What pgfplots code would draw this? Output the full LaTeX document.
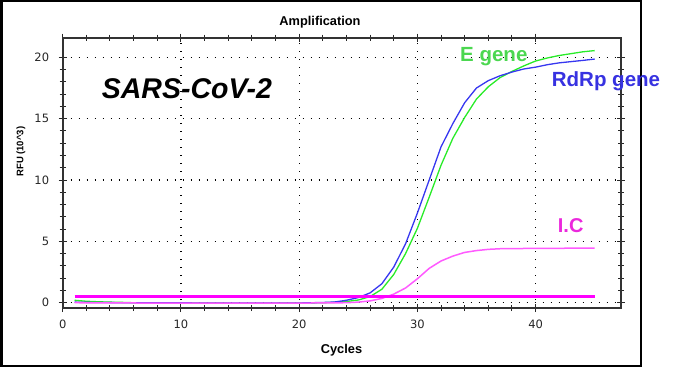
\documentclass[border=0pt]{standalone}
\usepackage{fontspec}
\setmainfont{Liberation Sans}
\newfontfamily\tickfont{DejaVu Sans}
\usepackage{pgfplots}
\pgfplotsset{compat=1.18}
\definecolor{cgreen}{RGB}{40,235,40}
\definecolor{cblue}{RGB}{55,55,240}
\definecolor{cmag}{RGB}{255,0,255}
\definecolor{cic}{RGB}{255,90,255}
\definecolor{lgreen}{RGB}{75,215,80}
\definecolor{lblue}{RGB}{55,50,225}
\definecolor{lmag}{RGB}{235,40,220}

\pgfplotstableread{
x y
1 0.05
2 0.03
3 0.02
4 0.01
5 0.0
8 0.0
12 -0.02
16 -0.03
20 -0.02
21 0.0
22 0.02
23 0.06
24 0.2
25 0.42
26 0.8
27 1.55
28 2.9
29 4.8
30 7.3
31 10.0
32 12.7
33 14.6
34 16.3
35 17.5
36 18.1
37 18.5
38 18.8
39 19.05
40 19.2
41 19.4
42 19.55
43 19.65
44 19.75
45 19.86
}\rdrp

\pgfplotstableread{
x y
1 0.2
2 0.12
3 0.08
4 0.05
5 0.03
6 0.0
12 -0.03
16 -0.04
20 -0.03
22 0.0
23 0.03
24 0.1
25 0.22
26 0.5
27 1.1
28 2.3
29 4.0
30 6.06
31 8.6
32 11.2
33 13.4
34 15.1
35 16.6
36 17.6
37 18.35
38 18.85
39 19.3
40 19.7
41 19.95
42 20.15
43 20.3
44 20.45
45 20.55
}\egene

\pgfplotstableread{
x y
1 0.0
5 -0.02
10 -0.03
15 -0.04
20 -0.03
24 0.0
25 0.05
26 0.15
27 0.35
28 0.7
29 1.2
30 1.95
31 2.8
32 3.4
33 3.8
34 4.1
35 4.25
36 4.35
37 4.4
40 4.43
45 4.45
}\ic

\pgfplotstableread{
x y
1 0.5
45 0.5
}\flat

\begin{document}
\begin{tikzpicture}[x=1pt,y=1pt]
\useasboundingbox (0,0) rectangle (685,367);
\draw[line width=2.5pt] (1.3,0.8) rectangle (641,365.8);
\begin{axis}[
  at={(62.7pt,59pt)}, anchor=south west,
  scale only axis, width=558pt, height=270.3pt,
  xmin=0, xmax=47.2, ymin=-0.43, ymax=21.6,
  xtick={0,10,20,30,40}, ytick={0,5,10,15,20},
  minor x tick num=4, minor y tick num=4,
  grid=major,
  major grid style={black, line width=1.2pt, dash pattern=on 1.2pt off 6.8pt},
  axis line style={black!80, line width=1.8pt},
  tick align=center,
  major tick length=8pt, minor tick length=6pt,
  every tick/.style={black!85, line width=1pt},
  /pgf/number format/assume math mode=true,
  ticklabel style={font=\tickfont\fontsize{11.5}{12}\selectfont, text=black!85},
  yticklabel style={anchor=east, inner sep=0pt, xshift=-9.4pt},
  xticklabel style={anchor=base, inner sep=0pt, yshift=-16.3pt},
]
\addplot[cgreen, line width=1.3pt] table[x=x,y=y] {\egene};
\addplot[cblue, line width=1.3pt] table[x=x,y=y] {\rdrp};
\addplot[cic, line width=1.5pt] table[x=x,y=y] {\ic};
\addplot[cmag, line width=2.8pt] table[x=x,y=y] {\flat};
\end{axis}
\node[anchor=base, inner sep=0pt, font=\fontsize{12.8}{14}\selectfont\bfseries] at (320,341.3) {Amplification};
\node[anchor=base, inner sep=0pt, font=\fontsize{12.8}{14}\selectfont\bfseries] at (341.5,13.7) {Cycles};
\node[rotate=90, inner sep=0pt, font=\fontsize{9.5}{11}\selectfont\bfseries] at (21,215.3) {RFU (10\textasciicircum 3)};
\node[anchor=base west, inner sep=0pt, font=\fontsize{28.5}{30}\selectfont\bfseries\itshape] at (101.7,268.7) {SARS-CoV-2};
\node[anchor=base west, inner sep=0pt, text=lgreen, font=\fontsize{20.5}{22}\selectfont\bfseries] at (460,305.3) {E gene};
\node[anchor=base west, inner sep=0pt, text=lblue, font=\fontsize{20.5}{22}\selectfont\bfseries] at (551.7,280.3) {RdRp gene};
\node[anchor=base west, inner sep=0pt, text=lmag, font=\fontsize{20}{22}\selectfont\bfseries] at (557.7,134.3) {I.C};
\end{tikzpicture}
\end{document}
